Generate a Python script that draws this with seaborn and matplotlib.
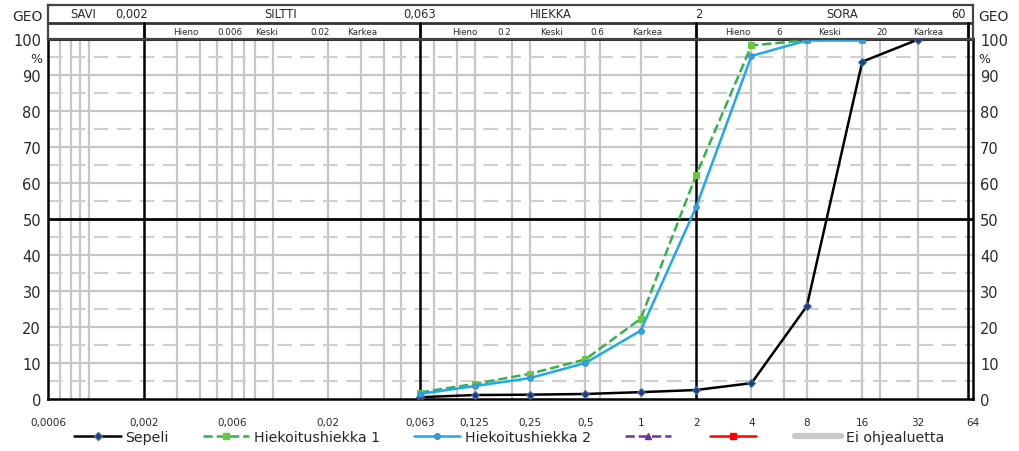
import numpy as np
import pandas as pd
import matplotlib
matplotlib.use("Agg")
import matplotlib.pyplot as plt
import seaborn as sns
from matplotlib.lines import Line2D

# ---------------- data ----------------
sieves = [0.063, 0.125, 0.25, 0.5, 1, 2, 4, 8, 16, 32]
sepeli = [0.5, 1.1, 1.2, 1.4, 1.9, 2.5, 4.4, 25.8, 93.7, 99.8]
hiekka1 = [1.8, 4.2, 7.0, 11.0, 22.3, 62.2, 98.2, 99.7, 99.7]
hiekka2 = [1.4, 3.6, 5.8, 10.0, 19.0, 53.3, 95.3, 99.6, 99.6]

xtick_vals = [0.0006, 0.002, 0.006, 0.02, 0.063, 0.125, 0.25, 0.5, 1, 2, 4, 8, 16, 32, 64]
xtick_labels = ["0,0006", "0,002", "0,006", "0,02", "0,063", "0,125", "0,25", "0,5",
                "1", "2", "4", "8", "16", "32", "64"]
ytick_vals = list(range(0, 101, 10))

grid_gray_x = [0.0007, 0.0008, 0.0009, 0.001, 0.003, 0.004, 0.005, 0.006, 0.007, 0.008,
               0.01, 0.02, 0.03, 0.04, 0.05, 0.075, 0.1, 0.125, 0.2, 0.25, 0.5, 0.6,
               1, 4, 6, 8, 16, 20, 32]
grid_black_x = [0.002, 0.063, 2, 60]

hdr_row1_labels = ["SAVI", "0,002", "SILTTI", "0,063", "HIEKKA", "2", "SORA", "60"]
hdr_row1_pos = [0.00093, 0.0017, 0.011, 0.063, 0.325, 2.07, 12.4, 53.3]
hdr_row2_labels = ["Hieno", "0.006", "Keski", "0.02", "Karkea",
                   "Hieno", "0.2", "Keski", "0.6", "Karkea",
                   "Hieno", "6", "Keski", "20", "Karkea"]
hdr_row2_pos = [0.00337, 0.00585, 0.0093, 0.018, 0.0305,
                0.1107, 0.182, 0.329, 0.577, 1.09,
                3.36, 5.63, 10.65, 20.4, 36.7]

legend_labels = ["Sepeli", "Hiekoitushiekka 1", "Hiekoitushiekka 2", "", "", "Ei ohjealuetta"]

# ---------------- style ----------------
sns.set_style("white")
plt.rcParams["font.family"] = ["DejaVu Sans"]
TXT = "#2a2a2a"

W, H = 1020, 452
fig = plt.figure(figsize=(W / 100, H / 100), dpi=100)
ax = fig.add_axes([48 / W, 52 / H, 925 / W, 360 / H])
hdr = fig.add_axes([48 / W, 412 / H, 925 / W, 34 / H])

# ---------------- main axes ----------------
ax.set_xscale("log")
ax.set_xlim(0.0006, 64)
ax.set_ylim(0, 100)

for v in grid_gray_x:
    ax.axvline(v, color="#c6c6c6", lw=1.6, zorder=1)
for v in grid_black_x:
    ax.axvline(v, color="black", lw=1.8, zorder=2)
for y in range(10, 100, 10):
    if y == 50:
        ax.axhline(y, color="black", lw=2.0, zorder=2)
    else:
        ax.axhline(y, color="#c6c6c6", lw=1.6, zorder=1)
for y in range(5, 100, 10):
    ax.axhline(y, color="#cfcfcf", lw=1.5, dashes=(7, 4), zorder=1)

sns.lineplot(x=sieves, y=sepeli, ax=ax, color="black", lw=1.8, marker="D",
             markersize=4, markerfacecolor="#1f3d7a", markeredgecolor="#4a6fa5",
             estimator=None, sort=False, zorder=6)
sns.lineplot(x=sieves[:len(hiekka1)], y=hiekka1, ax=ax, color="#2fb34a", lw=1.8,
             linestyle="--", marker="s", markersize=5, markerfacecolor="#6cc644",
             markeredgecolor="#6cc644", estimator=None, sort=False, zorder=5)
sns.lineplot(x=sieves[:len(hiekka2)], y=hiekka2, ax=ax, color="#1fa8ee", lw=1.8,
             marker="o", markersize=4, markerfacecolor="#1fa8ee",
             markeredgecolor="#4a86c8", estimator=None, sort=False, zorder=7)

ax.set_xticks(xtick_vals)
ax.set_xticklabels(xtick_labels)
ax.xaxis.set_minor_locator(matplotlib.ticker.NullLocator())
ax.set_yticks(ytick_vals)
ax.tick_params(axis="x", length=0, labelsize=7.5, pad=13, labelcolor=TXT)
ax.tick_params(axis="y", length=0, labelsize=10.5, pad=5, labelcolor=TXT,
               left=True, right=True, labelleft=True, labelright=True)
ax.set_xlabel("")
ax.set_ylabel("")
for s in ax.spines.values():
    s.set_visible(True)
    s.set_color("black")
    s.set_linewidth(1.8)
ax.spines["top"].set_color("#333333")
ax.spines["top"].set_linewidth(2.2)

ytr = ax.get_yaxis_transform()
ax.text(-0.006, 94.5, "%", transform=ytr, ha="right", va="center", fontsize=9, color=TXT)
ax.text(1.006, 94.5, "%", transform=ytr, ha="left", va="center", fontsize=9, color=TXT)

# ---------------- header ----------------
hdr.set_xscale("log")
hdr.set_xlim(0.0006, 64)
hdr.set_ylim(0, 1)
hdr.set_xticks([])
hdr.set_yticks([])
hdr.xaxis.set_minor_locator(matplotlib.ticker.NullLocator())
for s in hdr.spines.values():
    s.set_visible(True)
    s.set_color("#444444")
    s.set_linewidth(1.6)
hdr.axhline(0.47, color="#333333", lw=2.0)
for v in grid_black_x:
    hdr.axvline(v, ymin=0, ymax=0.47, color="black", lw=2.0)

for lab, pos in zip(hdr_row1_labels, hdr_row1_pos):
    hdr.text(pos, 0.74, lab, ha="center", va="center", fontsize=8.3, color=TXT)
for lab, pos in zip(hdr_row2_labels, hdr_row2_pos):
    hdr.text(pos, 0.22, lab, ha="center", va="center", fontsize=6.3, color=TXT)

hdr.text(-0.006, 0.68, "GEO", transform=hdr.transAxes, ha="right", va="center",
         fontsize=10, color=TXT)
hdr.text(1.006, 0.68, "GEO", transform=hdr.transAxes, ha="left", va="center",
         fontsize=10, color=TXT)

# ---------------- legend ----------------
handles = [
    Line2D([], [], color="black", lw=1.8, marker="D", markersize=4,
           markerfacecolor="#1f3d7a", markeredgecolor="#4a6fa5"),
    Line2D([], [], color="#2fb34a", lw=1.8, linestyle="--", marker="s", markersize=5,
           markerfacecolor="#6cc644", markeredgecolor="#6cc644"),
    Line2D([], [], color="#1fa8ee", lw=1.8, marker="o", markersize=4,
           markerfacecolor="#1fa8ee", markeredgecolor="#4a86c8"),
    Line2D([], [], color="#7030a0", lw=1.8, linestyle="--", marker="^", markersize=5,
           markerfacecolor="#7030a0", markeredgecolor="#7030a0"),
    Line2D([], [], color="#ff0000", lw=1.8, marker="s", markersize=5,
           markerfacecolor="#ff0000", markeredgecolor="#ff0000"),
    Line2D([], [], color="#c8c8c8", lw=4.5),
]
fig.legend(handles, legend_labels, loc="center", bbox_to_anchor=(0.499, 0.031),
           ncol=6, frameon=False, fontsize=10.2, handlelength=3.3, handletextpad=0.3,
           columnspacing=2.4, borderaxespad=0, borderpad=0)

fig.savefig("out.png", dpi=100)
